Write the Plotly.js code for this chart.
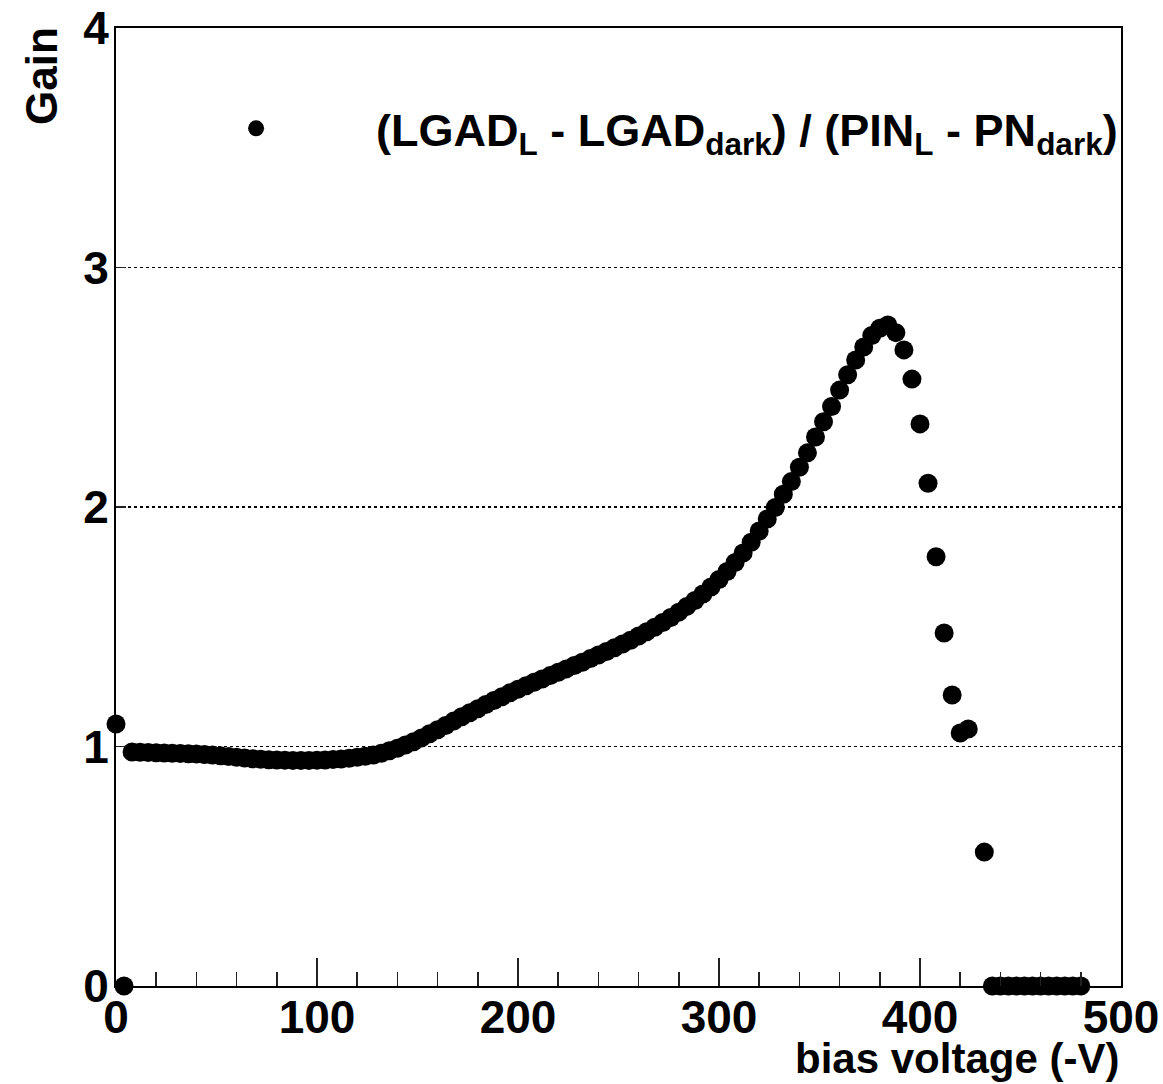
<!DOCTYPE html>
<html>
<head>
<meta charset="utf-8">
<script src="https://cdn.plot.ly/plotly-3.0.1.min.js"></script>
<style>html,body{margin:0;padding:0;background:#fff;}#chart{width:1163px;height:1084px;}</style>
</head>
<body>
<div id="chart"></div>
<script>
const voltage = [0,4,8,12,16,20,24,28,32,36,40,44,48,52,56,60,64,68,72,76,80,84,88,92,96,100,104,108,112,116,120,124,128,132,136,140,144,148,152,156,160,164,168,172,176,180,184,188,192,196,200,204,208,212,216,220,224,228,232,236,240,244,248,252,256,260,264,268,272,276,280,284,288,292,296,300,304,308,312,316,320,324,328,332,336,340,344,348,352,356,360,364,368,372,376,380,384,388,392,396,400,404,408,412,416,420,424,432,436,440,444,448,452,456,460,464,468,472,476,480];
const gain = [1.094,0.0,
0.977,0.976,0.975,0.974,0.973,0.972,0.971,0.970,0.969,0.967,
0.964,0.961,0.958,0.955,0.952,0.949,0.947,0.945,0.944,0.943,
0.942,0.942,0.942,0.943,0.944,0.946,0.948,0.951,0.955,0.959,
0.964,
0.972,0.982,0.993,1.006,1.020,1.036,1.053,1.070,1.088,1.106,
1.124,1.141,1.158,1.175,1.192,1.208,1.224,1.239,1.254,1.268,
1.282,1.296,1.310,1.324,1.338,1.352,1.367,1.382,1.397,1.412,
1.428,1.444,1.461,1.479,1.498,1.518,1.539,1.561,
1.585,1.610,1.637,1.666,1.697,1.731,1.768,1.808,1.853,1.900,
1.950,1.998,2.053,2.106,2.166,2.226,2.292,2.356,2.420,2.488,
2.552,2.614,2.668,2.716,2.746,2.760,2.728,2.656,2.534,2.347,
2.099,1.792,1.474,1.215,1.056,1.073,
0.559,
0,0,0,0,0,0,0,0,0,0,0,0];
const seriesName = "(LGAD<sub>L</sub> - LGAD<sub>dark</sub>) / (PIN<sub>L</sub> - PN<sub>dark</sub>)";
const xTitle = "bias voltage (-V)";
const yTitle = "Gain";

const FONT = "Liberation Sans, Arial, Helvetica, sans-serif";

const trace = {
  x: voltage, y: gain, type: "scatter", mode: "markers", name: seriesName,
  cliponaxis: false,
  marker: {color: "#000", size: 19, line: {width: 0}}
};

const layout = {
  width: 1163, height: 1084,
  margin: {l: 116, r: 42, t: 28, b: 98},
  paper_bgcolor: "#fff", plot_bgcolor: "#fff",
  font: {family: FONT, color: "#000", size: 46, weight: 700},
  showlegend: true,
  legend: {x: 0.02, y: 0.895, xanchor: "left", yanchor: "middle",
    bgcolor: "rgba(0,0,0,0)", borderwidth: 0, itemwidth: 230,
    font: {family: FONT, size: 45, weight: 700, color: "#000"}},
  xaxis: {
    range: [0, 500], dtick: 100, tick0: 0,
    ticks: "inside", ticklen: 28, tickwidth: 1.5, tickcolor: "#222",
    minor: {dtick: 20, ticks: "inside", ticklen: 14, tickwidth: 1.5, tickcolor: "#222"},
    showline: true, linecolor: "#000", linewidth: 2, mirror: true,
    showgrid: false, zeroline: false,
    ticklabelstandoff: -10,
    tickfont: {family: FONT, size: 46, weight: 700, color: "#000"}
  },
  yaxis: {
    range: [0, 4], dtick: 1, tick0: 0,
    ticks: "inside", ticklen: 10, tickwidth: 1.5, tickcolor: "#222",
    showline: true, linecolor: "#000", linewidth: 2, mirror: true,
    showgrid: true, gridcolor: "#000", griddash: "dot", gridwidth: 1.2,
    zeroline: false,
    ticklabelstandoff: -4,
    tickfont: {family: FONT, size: 46, weight: 700, color: "#000"}
  },
  annotations: [
    {text: xTitle, xref: "paper", yref: "paper", x: 1, y: -0.076,
     xanchor: "right", yanchor: "middle", showarrow: false,
     font: {family: FONT, size: 42, weight: 700, color: "#000"}},
    {text: yTitle, xref: "paper", yref: "paper", x: -0.0736, y: 0.95,
     xanchor: "center", yanchor: "middle", textangle: -90, showarrow: false,
     font: {family: FONT, size: 44, weight: 700, color: "#000"}}
  ]
};

Plotly.newPlot("chart", [trace], layout, {displayModeBar: false, staticPlot: true});
</script>
</body>
</html>
